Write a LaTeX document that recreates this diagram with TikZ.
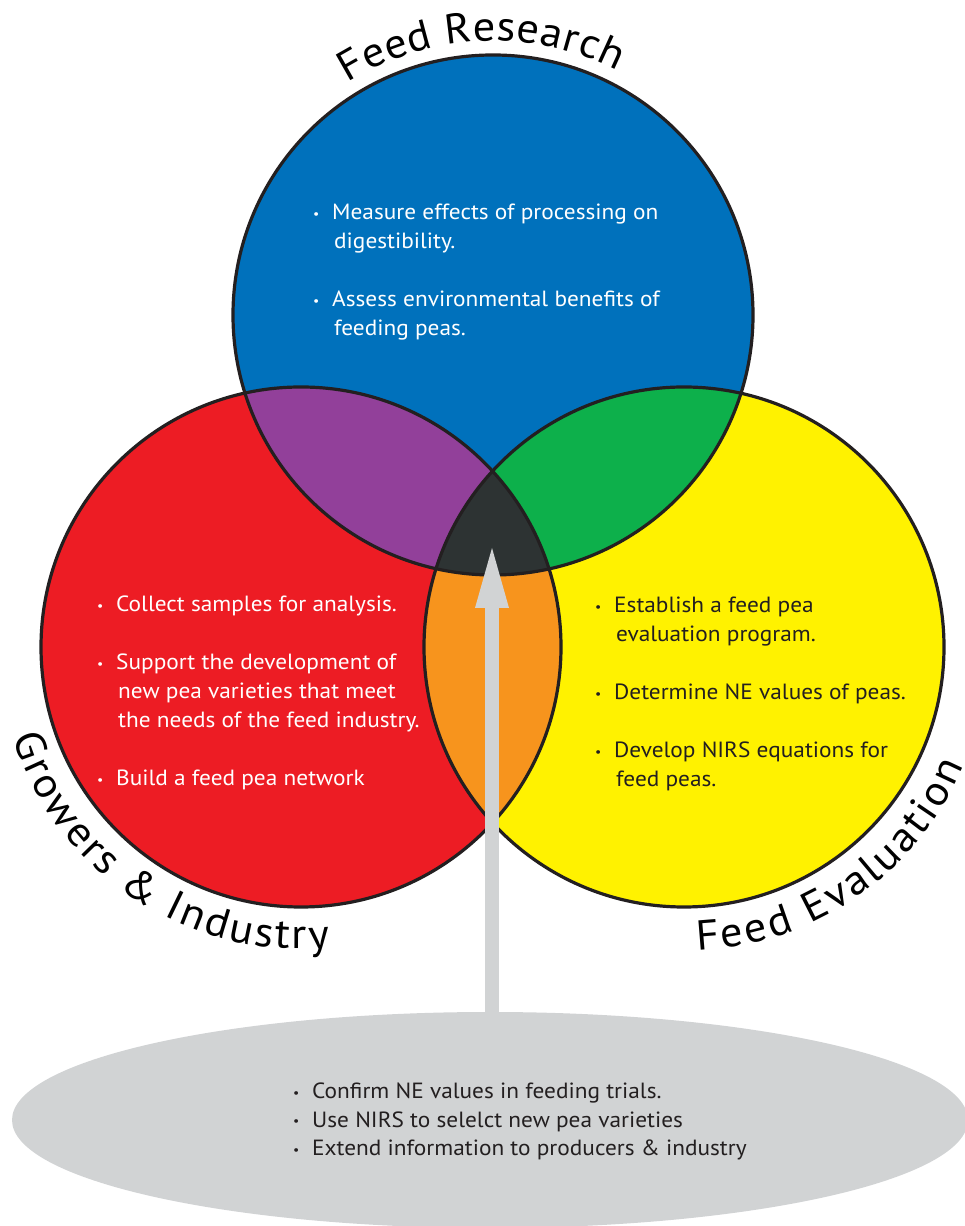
\documentclass[tikz,border=0pt]{standalone}
\usepackage{fontspec}
\setmainfont[FakeStretch=1.06]{PT Sans}
\newfontfamily\labfam[FakeStretch=1.06]{PT Sans}
\usetikzlibrary{arrows.meta,shapes.geometric,decorations.text,calc}
\definecolor{cblue}{HTML}{0071BC}
\definecolor{cred}{HTML}{ED1C24}
\definecolor{cyellow}{HTML}{FFF200}
\definecolor{cpurple}{HTML}{92409A}
\definecolor{cgreen}{HTML}{0DB04B}
\definecolor{corange}{HTML}{F7941D}
\definecolor{cdark}{HTML}{2D3333}
\definecolor{cgray}{HTML}{D1D3D4}
\definecolor{ink}{HTML}{231F20}
\newcommand{\bul}{\makebox[19pt][l]{\raisebox{1.5pt}{\fontsize{13}{13}\selectfont\textbullet}}}
\newcommand{\ind}{\hspace*{21pt}}
\newcommand{\labfont}{\labfam\fontsize{42}{42}\selectfont}
\begin{document}
\begin{tikzpicture}[x=1pt,y=1pt,
  outline/.style={draw=ink, line width=3.2pt},
  blocktext/.style={anchor=base west, align=left, inner sep=0pt, font=\fontsize{22}{29}\selectfont},
  basetext/.style={anchor=base west, align=left, inner sep=0pt, font=\fontsize{22}{28.5}\selectfont, text=ink},
  arclabel/.style={decorate, decoration={text along path, text align={fit to path}, text={#1}}},
]
\useasboundingbox (0,0) rectangle (965,1226);
\clip (0,0) rectangle (965,1226);
\coordinate (bc) at (493,911);
\coordinate (rc) at (301,579);
\coordinate (yc) at (684,579);
\def\R{260pt}
% base fills
\fill[cblue] (bc) circle[radius=\R];
\fill[cred] (rc) circle[radius=\R];
\fill[cyellow] (yc) circle[radius=\R];
% pairwise overlaps
\begin{scope}
  \clip (bc) circle[radius=\R];
  \fill[cpurple] (rc) circle[radius=\R];
  \fill[cgreen] (yc) circle[radius=\R];
\end{scope}
\begin{scope}
  \clip (rc) circle[radius=\R];
  \fill[corange] (yc) circle[radius=\R];
\end{scope}
% triple overlap
\begin{scope}
  \clip (bc) circle[radius=\R];
  \clip (rc) circle[radius=\R];
  \fill[cdark] (yc) circle[radius=\R];
\end{scope}
% outlines
\draw[outline] (bc) circle[radius=\R];
\draw[outline] (rc) circle[radius=\R];
\draw[outline] (yc) circle[radius=\R];

% base ellipse
\node[ellipse, fill=cgray, minimum width=956pt, minimum height=216pt, inner sep=0pt] (base) at (490,106) {};
\coordinate (tip) at (492,678);
\coordinate (foot) at (base.north -| tip);
\draw[cgray, line width=13.3pt, -{Triangle[length=60pt,width=34pt,line width=0pt]}] ([yshift=-3pt]foot) -- (tip);

% texts (anchored at the baseline of the last line)
\node[blocktext, text=white] (fr-text) at (313,890) {\bul Measure effects of processing on\\ \ind digestibility.\\[29pt] \bul Assess environmental benefits of\\ \ind feeding peas.};
\node[blocktext, text=white] (gi-text) at (97,440) {\bul Collect samples for analysis.\\[29pt] \bul Support the development of\\ \ind new pea varieties that meet\\ \ind the needs of the feed industry.\\[29pt] \bul Build a feed pea network};
\node[blocktext, text=ink] (fe-text) at (595,439) {\bul Establish a feed pea\\ \ind evaluation program.\\[29pt] \bul Determine NE values of peas.\\[29pt] \bul Develop NIRS equations for\\ \ind feed peas.};
\node[basetext] (base-text) at (293,70) {\bul Confirm NE values in feeding trials.\\ \bul Use NIRS to selelct new pea varieties\\ \bul Extend information to producers \& industry};

% curved labels
\path[arclabel={|\labfont|Feed Research}] ($(bc)+(122:274pt)$) arc[start angle=122, end angle=63, radius=274pt];
\path[arclabel={|\labfont|Growers {\&} Industry}] ($(rc)+(197.5:302pt)$) arc[start angle=197.5, end angle=275.5, radius=302pt];
\path[arclabel={|\labfont|Feed Evaluation}] ($(yc)+(272.5:304pt)$) arc[start angle=272.5, end angle=337, radius=304pt];
\end{tikzpicture}
\end{document}
